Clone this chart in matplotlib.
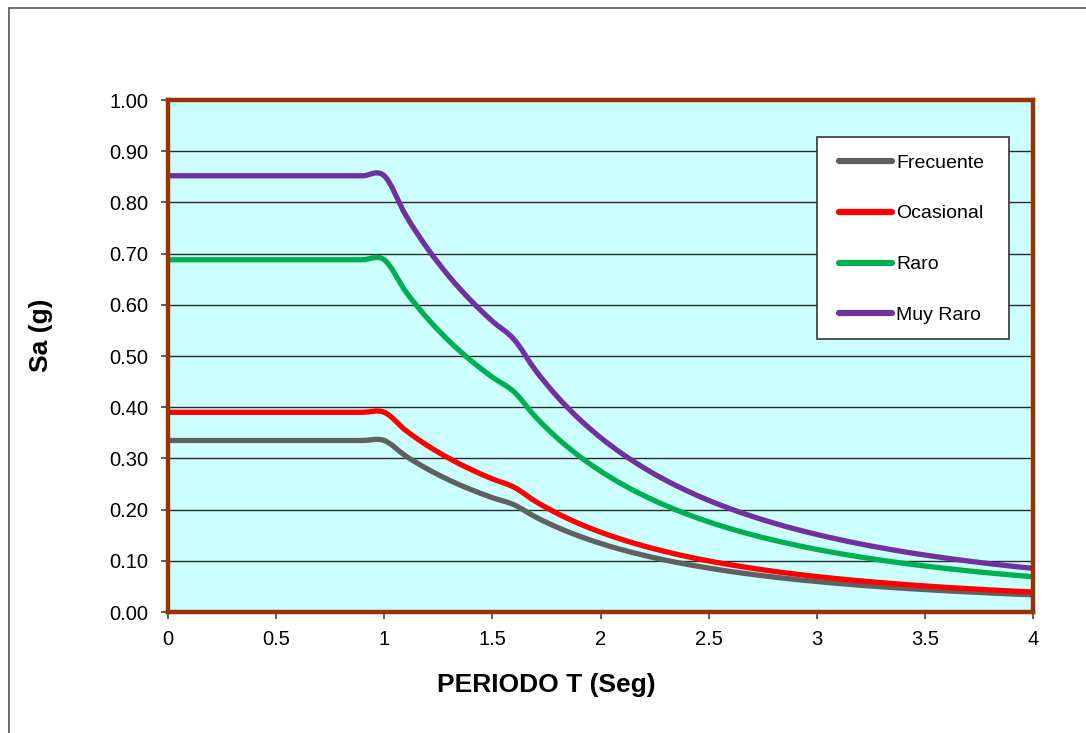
import matplotlib
matplotlib.use("Agg")
import matplotlib.pyplot as plt
from matplotlib.path import Path
from matplotlib.patches import PathPatch, Rectangle
from matplotlib.lines import Line2D
from matplotlib.ticker import FixedLocator, FuncFormatter
import numpy as np

plt.rcParams['font.family'] = ['Liberation Sans', 'DejaVu Sans']

# Period T (s)
periodos = [0.0, 0.1, 0.2, 0.3, 0.4, 0.5, 0.6, 0.7, 0.8, 0.9, 1.0,
            1.1, 1.2, 1.3, 1.4, 1.5, 1.6, 1.7, 1.8, 1.9, 2.0,
            2.1, 2.2, 2.3, 2.4, 2.5, 2.6, 2.7, 2.8, 2.9, 3.0,
            3.1, 3.2, 3.3, 3.4, 3.5, 3.6, 3.7, 3.8, 3.9, 4.0]

# Spectral acceleration Sa (g) for each hazard level
frecuente = [0.335] * 11 + [
    0.3045, 0.2792, 0.2577, 0.2393, 0.2233, 0.2094, 0.1855, 0.1654, 0.1485, 0.1340,
    0.1215, 0.1108, 0.1013, 0.0931, 0.0858, 0.0793, 0.0735, 0.0684, 0.0637, 0.0596,
    0.0558, 0.0523, 0.0492, 0.0464, 0.0438, 0.0414, 0.0392, 0.0371, 0.0352, 0.0335]
ocasional = [0.390] * 11 + [
    0.3545, 0.3250, 0.3000, 0.2786, 0.2600, 0.2438, 0.2159, 0.1926, 0.1728, 0.1560,
    0.1415, 0.1289, 0.1180, 0.1083, 0.0998, 0.0923, 0.0856, 0.0796, 0.0742, 0.0693,
    0.0649, 0.0609, 0.0573, 0.0540, 0.0509, 0.0481, 0.0456, 0.0432, 0.0410, 0.0390]
raro = [0.688] * 11 + [
    0.6255, 0.5733, 0.5292, 0.4914, 0.4587, 0.4300, 0.3809, 0.3397, 0.3049, 0.2752,
    0.2496, 0.2275, 0.2081, 0.1911, 0.1761, 0.1628, 0.1510, 0.1404, 0.1309, 0.1223,
    0.1146, 0.1075, 0.1011, 0.0952, 0.0899, 0.0850, 0.0804, 0.0762, 0.0724, 0.0688]
muy_raro = [0.852] * 11 + [
    0.7745, 0.7100, 0.6554, 0.6086, 0.5680, 0.5325, 0.4717, 0.4207, 0.3776, 0.3408,
    0.3091, 0.2817, 0.2577, 0.2367, 0.2181, 0.2017, 0.1870, 0.1739, 0.1621, 0.1515,
    0.1419, 0.1331, 0.1252, 0.1179, 0.1113, 0.1052, 0.0996, 0.0944, 0.0896, 0.0852]

series_names = ["Frecuente", "Ocasional", "Raro", "Muy Raro"]
series_values = [frecuente, ocasional, raro, muy_raro]
series_colors = ["#606060", "#FF0000", "#00B050", "#7030A0"]

x_ticks = [0, 0.5, 1, 1.5, 2, 2.5, 3, 3.5, 4]
y_ticks = [0.0, 0.1, 0.2, 0.3, 0.4, 0.5, 0.6, 0.7, 0.8, 0.9, 1.0]


def smooth_path(xs, ys):
    """Cubic Bezier path through the points (Catmull-Rom style smoothing)."""
    pts = np.column_stack([xs, ys]).astype(float)
    n = len(pts)
    verts = [pts[0]]
    codes = [Path.MOVETO]
    for i in range(n - 1):
        p_prev = pts[max(i - 1, 0)]
        p0 = pts[i]
        p1 = pts[i + 1]
        p_next = pts[min(i + 2, n - 1)]
        c1 = p0 + (p1 - p_prev) / 6.0
        c2 = p1 - (p_next - p0) / 6.0
        verts += [c1, c2, p1]
        codes += [Path.CURVE4, Path.CURVE4, Path.CURVE4]
    return Path(verts, codes)


fig = plt.figure(figsize=(10.86, 7.33), dpi=100)
fig.patch.set_facecolor("white")

# outer chart frame
fig.patches.append(Rectangle((9 / 1086, -0.05), 1.2, 1 - 8 / 733 + 0.05,
                             transform=fig.transFigure, fill=False,
                             edgecolor="#555555", linewidth=1.2))

ax = fig.add_axes([168 / 1086, 1 - 612 / 733, 865 / 1086, 512 / 733])
ax.set_facecolor("#CCFFFF")
ax.set_xlim(0, 4)
ax.set_ylim(0, 1.0)

ax.xaxis.set_major_locator(FixedLocator(x_ticks))
ax.yaxis.set_major_locator(FixedLocator(y_ticks))
ax.xaxis.set_major_formatter(FuncFormatter(lambda v, p: f"{v:g}"))
ax.yaxis.set_major_formatter(FuncFormatter(lambda v, p: f"{v:.2f}"))
ax.tick_params(axis="both", direction="out", length=5, width=1.2,
               color="#444444", labelsize=14.5, labelcolor="black")
ax.tick_params(axis="y", pad=9)
ax.tick_params(axis="x", pad=8)

ax.yaxis.grid(True, color="#2a2a2a", linewidth=1.0)
ax.xaxis.grid(False)
ax.set_axisbelow(True)

for sp in ax.spines.values():
    sp.set_color("#993300")
    sp.set_linewidth(3.2)
    sp.set_zorder(5)

for vals, col in zip(series_values, series_colors):
    patch = PathPatch(smooth_path(periodos, vals), fill=False, edgecolor=col,
                      linewidth=3.8, capstyle="butt", joinstyle="round",
                      zorder=3)
    ax.add_patch(patch)

ax.set_xlabel("PERIODO T (Seg)", fontsize=19, fontweight="bold")
ax.set_ylabel("Sa (g)", fontsize=19, fontweight="bold")
ax.xaxis.set_label_coords(0.437, -0.119)
ax.yaxis.set_label_coords(-0.133, 0.541)

# legend frame
ax.add_patch(Rectangle(((817 - 168) / 865, (612 - 339) / 512),
                       (1009 - 817) / 865, (339 - 137) / 512,
                       transform=ax.transAxes, facecolor="white",
                       edgecolor="#333333", linewidth=1.2, zorder=6,
                       clip_on=False))

handles = [Line2D([0], [0], color=c, linewidth=4.5, solid_capstyle="round")
           for c in series_colors]
leg = ax.legend(handles, series_names, loc="upper left",
                bbox_to_anchor=((839 - 168) / 865, (612 - 154) / 512),
                fontsize=14, frameon=False,
                handlelength=2.75, handletextpad=0.2, labelspacing=1.71,
                borderpad=0.0, borderaxespad=0.0)
leg.set_zorder(7)

fig.savefig("out.png", dpi=100, facecolor="white")
